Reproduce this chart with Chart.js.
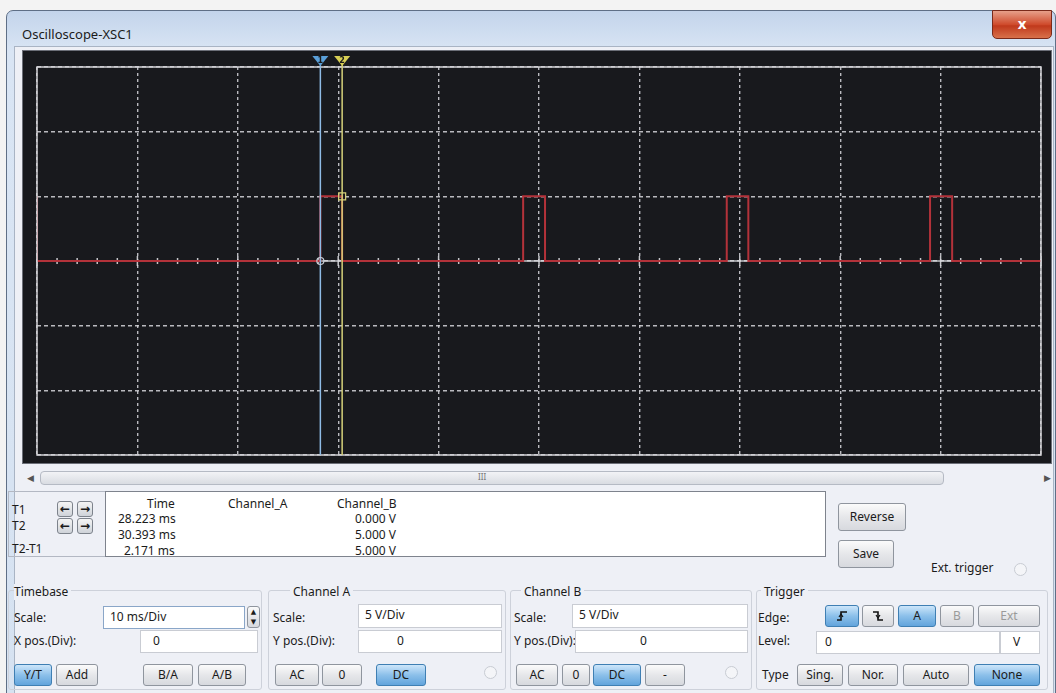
<!DOCTYPE html>
<html>
<head>
<meta charset="utf-8">
<title>Oscilloscope-XSC1</title>
<script src="https://cdn.jsdelivr.net/npm/chart.js@4/dist/chart.umd.min.js"></script>
<style>
  body { margin: 0; width: 1056px; height: 693px; overflow: hidden; background: #f3f3f3;
         font-family: "Noto Sans", "DejaVu Sans", sans-serif; font-size: 12px; color: #1b1b1b; position: relative; }
  .abs { position: absolute; white-space: nowrap; line-height: 16px; }
  #frame { position: absolute; left: 6px; top: 10px; width: 1048px; height: 690px; border: 1px solid #5f6f86;
           border-radius: 7px 7px 0 0; background: linear-gradient(#c3d4eb, #d9e5f4 40px, #d6e2f1); }
  #client { position: absolute; left: 14px; top: 46px; width: 1038px; height: 650px; background: #eef0f6;
            border: 1px solid #a9b4c4; }
  #closeBtn { position: absolute; left: 992px; top: 10px; width: 58px; height: 27px; border-radius: 0 0 5px 5px;
              background: linear-gradient(#e7a08a, #cf4b2c 50%, #c0391c 55%, #d8704a); border: 1px solid #7a2a1a;
              color: #fff; font-weight: bold; font-size: 15px; text-align: center; line-height: 25px; }
  #scopePanel { position: absolute; left: 22px; top: 50px; width: 1030px; height: 414px; background: #18191d;
                border: 1px solid #6c6f78; box-sizing: border-box; }
  #scope { position: absolute; left: 22px; top: 50px; }
  .box { position: absolute; border: 1px solid #9aa0ab; box-sizing: border-box; }
  .btn { position: absolute; box-sizing: border-box; border: 1px solid #8f959e; border-radius: 3px;
         background: linear-gradient(#fbfbfb, #e6e7ea 50%, #d7d9de); text-align: center; line-height: 20px; }
  .btn.on { background: linear-gradient(#cde6fa, #8cc0ea 50%, #62a4dc); border-color: #3f7fb3; }
  .btn.off { color: #9a9a9a; }
  .btn svg { position: absolute; left: 50%; top: 50%; transform: translate(-50%, -50%); }
  .inp { position: absolute; box-sizing: border-box; background: #fff; border: 1px solid #c9ccd3; line-height: 20px; padding-left: 6px; }
  .grp { position: absolute; box-sizing: border-box; border: 1px solid #cdd1da; border-radius: 3px; }
  .radio { position: absolute; width: 11px; height: 11px; border-radius: 50%; border: 1px solid #c8ccd3; background: #f4f5f8; }
  .arrow { position: absolute; width: 16px; height: 16px; box-sizing: border-box; border: 1px solid #7d838c; border-radius: 3px;
           background: linear-gradient(#f5f5f5, #cfd3d9); font-weight: bold; font-size: 12px; line-height: 13px; text-align: center; }
</style>
</head>
<body>
<div id="frame"></div>
<div class="abs" style="left:22px; top:26px; font-size:13px;">Oscilloscope-XSC1</div>
<div id="closeBtn">x</div>
<div id="client"></div>
<div id="scopePanel"></div>
<canvas id="scope" width="1030" height="414"></canvas>

<!-- scrollbar -->
<div class="abs" style="left:27px; top:470px; font-size:9px; color:#555;">&#9664;</div>
<div class="box" style="left:40px; top:471px; width:904px; height:14px; border-color:#b5bac4; border-radius:4px; background:linear-gradient(#f2f3f6,#d9dce2);"></div>
<div class="abs" style="left:478px; top:469px; font-size:8px; color:#777;">III</div>
<div class="abs" style="left:1044px; top:470px; font-size:9px; color:#555;">&#9654;</div>

<!-- cursor readout -->
<div class="box" style="left:8px; top:491px; width:98px; height:66px; border-color:#b3b8c3;"></div>
<div class="abs" style="left:12px; top:502px;">T1</div>
<div class="arrow" style="left:57px; top:501px;">&#8592;</div>
<div class="arrow" style="left:77px; top:501px;">&#8594;</div>
<div class="abs" style="left:12px; top:518px;">T2</div>
<div class="arrow" style="left:57px; top:518px;">&#8592;</div>
<div class="arrow" style="left:77px; top:518px;">&#8594;</div>
<div class="abs" style="left:12px; top:541px;">T2-T1</div>
<div class="box" style="left:105px; top:491px; width:721px; height:66px; background:#fff; border-color:#7e838d;"></div>
<div class="abs" style="left:147px; top:496px;">Time</div>
<div class="abs" style="left:118px; top:511px;">28.223 ms</div>
<div class="abs" style="left:118px; top:527px;">30.393 ms</div>
<div class="abs" style="left:124px; top:543px;">2.171 ms</div>
<div class="abs" style="left:228px; top:496px;">Channel_A</div>
<div class="abs" style="left:337px; top:496px;">Channel_B</div>
<div class="abs" style="left:320px; top:511px; width:76px; text-align:right;">0.000 V</div>
<div class="abs" style="left:320px; top:527px; width:76px; text-align:right;">5.000 V</div>
<div class="abs" style="left:320px; top:543px; width:76px; text-align:right;">5.000 V</div>
<div class="btn" style="left:838px; top:503px; width:68px; height:28px; line-height:26px;">Reverse</div>
<div class="btn" style="left:838px; top:540px; width:56px; height:28px; line-height:26px;">Save</div>
<div class="abs" style="left:931px; top:560px;">Ext. trigger</div>
<div class="radio" style="left:1014px; top:563px;"></div>

<!-- Timebase -->
<div class="grp" style="left:8px; top:590px; width:254px; height:100px;"></div>
<div class="abs" style="left:14px; top:584px; background:#eef0f6; padding-right:3px;">Timebase</div>
<div class="abs" style="left:14px; top:610px;">Scale:</div>
<div class="inp" style="left:103px; top:606px; width:142px; height:23px; border-color:#8aa6c8;">10 ms/Div</div>
<div class="btn" style="left:247px; top:606px; width:13px; height:22px; font-size:7px; line-height:10px;">&#9650;<br>&#9660;</div>
<div class="abs" style="left:14px; top:633px;">X pos.(Div):</div>
<div class="inp" style="left:140px; top:630px; width:118px; height:23px; padding-left:12px;">0</div>
<div class="btn on" style="left:14px; top:664px; width:38px; height:22px;">Y/T</div>
<div class="btn" style="left:56px; top:664px; width:42px; height:22px;">Add</div>
<div class="btn" style="left:143px; top:664px; width:50px; height:22px;">B/A</div>
<div class="btn" style="left:198px; top:664px; width:48px; height:22px;">A/B</div>

<!-- Channel A -->
<div class="grp" style="left:268px; top:590px; width:238px; height:100px;"></div>
<div class="abs" style="left:290px; top:584px; background:#eef0f6; padding:0 3px;">Channel A</div>
<div class="abs" style="left:273px; top:610px;">Scale:</div>
<div class="inp" style="left:358px; top:604px; width:144px; height:24px;">5 V/Div</div>
<div class="abs" style="left:273px; top:633px;">Y pos.(Div):</div>
<div class="inp" style="left:358px; top:630px; width:144px; height:23px; padding-left:38px;">0</div>
<div class="btn" style="left:275px; top:664px; width:44px; height:22px;">AC</div>
<div class="btn" style="left:322px; top:664px; width:40px; height:22px;">0</div>
<div class="btn on" style="left:376px; top:664px; width:50px; height:22px;">DC</div>
<div class="radio" style="left:484px; top:666px;"></div>

<!-- Channel B -->
<div class="grp" style="left:510px; top:590px; width:242px; height:100px;"></div>
<div class="abs" style="left:521px; top:584px; background:#eef0f6; padding:0 3px;">Channel B</div>
<div class="abs" style="left:514px; top:610px;">Scale:</div>
<div class="inp" style="left:572px; top:604px; width:176px; height:24px;">5 V/Div</div>
<div class="abs" style="left:514px; top:633px;">Y pos.(Div):</div>
<div class="inp" style="left:575px; top:630px; width:173px; height:23px; padding-left:64px;">0</div>
<div class="btn" style="left:516px; top:664px; width:42px; height:22px;">AC</div>
<div class="btn" style="left:562px; top:664px; width:28px; height:22px;">0</div>
<div class="btn on" style="left:593px; top:664px; width:48px; height:22px;">DC</div>
<div class="btn" style="left:645px; top:664px; width:40px; height:22px;">-</div>
<div class="radio" style="left:725px; top:666px;"></div>

<!-- Trigger -->
<div class="grp" style="left:756px; top:590px; width:292px; height:100px;"></div>
<div class="abs" style="left:761px; top:584px; background:#eef0f6; padding:0 3px;">Trigger</div>
<div class="abs" style="left:758px; top:610px;">Edge:</div>
<div class="btn on" style="left:825px; top:605px; width:34px; height:22px;">
  <svg width="12" height="12" viewBox="0 0 12 12"><path d="M1 10 H5 V2 H11" fill="none" stroke="#111" stroke-width="1.6"/><path d="M3 7 L5 4 L7 7" fill="none" stroke="#111" stroke-width="1.2"/></svg>
</div>
<div class="btn" style="left:862px; top:605px; width:32px; height:22px;">
  <svg width="12" height="12" viewBox="0 0 12 12"><path d="M1 2 H6 V10 H11" fill="none" stroke="#111" stroke-width="1.6"/><path d="M4 5 L6 8 L8 5" fill="none" stroke="#111" stroke-width="1.2"/></svg>
</div>
<div class="btn on" style="left:898px; top:605px; width:38px; height:22px;">A</div>
<div class="btn off" style="left:940px; top:605px; width:34px; height:22px;">B</div>
<div class="btn off" style="left:978px; top:605px; width:62px; height:22px;">Ext</div>
<div class="abs" style="left:758px; top:633px;">Level:</div>
<div class="inp" style="left:816px; top:631px; width:184px; height:23px; padding-left:8px;">0</div>
<div class="inp" style="left:1000px; top:631px; width:40px; height:23px; padding-left:12px;">V</div>
<div class="abs" style="left:762px; top:667px;">Type</div>
<div class="btn" style="left:797px; top:664px; width:46px; height:22px;">Sing.</div>
<div class="btn" style="left:848px; top:664px; width:50px; height:22px;">Nor.</div>
<div class="btn" style="left:903px; top:664px; width:66px; height:22px;">Auto</div>
<div class="btn on" style="left:974px; top:664px; width:66px; height:22px;">None</div>

<script>
// Channel B trace (time in ms, level in V)
const timeMs = [0, 0, 28.22, 28.22, 30.39, 30.39, 48.42, 48.42, 50.6, 50.6, 68.7, 68.7, 70.85, 70.85, 88.95, 88.95, 91.15, 91.15, 100];
const channelB = [5, 0, 0, 5, 5, 0, 0, 5, 5, 0, 0, 5, 5, 0, 0, 5, 5, 0, 0];

// 10 ms/Div over 10 divisions, 5 V/Div over 6 divisions
const timeDiv = 10;
const timeMax = 100;
const voltDiv = 5;
const voltMax = 15;
const minorPerDiv = 5;

// cursors T1 / T2 and the Channel_B readings at them
const cursorTimes = [28.223, 30.393];
const cursorVolts = [0, 5];

const gridColor = "rgba(215, 215, 220, 0.85)";

const scopeOverlay = {
  id: "scopeOverlay",
  beforeDatasetsDraw(chart) {
    const { ctx, chartArea: a, scales: { x, y } } = chart;
    const y0 = y.getPixelForValue(0);
    ctx.save();
    ctx.strokeStyle = "rgba(215, 215, 220, 0.9)";
    ctx.lineWidth = 1.5;
    ctx.beginPath();
    ctx.moveTo(a.left, y0);
    ctx.lineTo(a.right, y0);
    ctx.stroke();
    // minor ticks on the centre line
    const n = (timeMax / timeDiv) * minorPerDiv;
    for (let i = 0; i <= n; i++) {
      const px = x.getPixelForValue((i * timeDiv) / minorPerDiv);
      const h = i % minorPerDiv === 0 ? 5 : 3;
      ctx.beginPath();
      ctx.moveTo(px, y0 - h);
      ctx.lineTo(px, y0 + h);
      ctx.stroke();
    }
    ctx.restore();
  },
  afterDatasetsDraw(chart) {
    const { ctx, chartArea: a, scales: { x, y } } = chart;
    ctx.save();
    // outer frame
    ctx.strokeStyle = "#d4d4d8";
    ctx.lineWidth = 1.5;
    ctx.strokeRect(a.left, a.top, a.right - a.left, a.bottom - a.top);

    const colors = ["#8fbbe6", "#d6d27a"];
    const fills = ["#5a9fd8", "#d8cf55"];
    cursorTimes.forEach((t, i) => {
      const px = x.getPixelForValue(t);
      ctx.strokeStyle = colors[i];
      ctx.lineWidth = 1.5;
      ctx.beginPath();
      ctx.moveTo(px, a.top - 8);
      ctx.lineTo(px, a.bottom);
      ctx.stroke();
      // marker triangle on top
      ctx.fillStyle = fills[i];
      ctx.beginPath();
      ctx.moveTo(px - 8, a.top - 11);
      ctx.lineTo(px + 8, a.top - 11);
      ctx.lineTo(px, a.top - 1);
      ctx.closePath();
      ctx.fill();
      ctx.fillStyle = "#1a1a1a";
      ctx.font = "bold 8px 'DejaVu Sans'";
      ctx.textAlign = "center";
      ctx.fillText(String(i + 1), px, a.top - 4);
      // reading marker
      const py = y.getPixelForValue(cursorVolts[i]);
      ctx.strokeStyle = i === 0 ? "#c8cdd6" : "#d6d27a";
      ctx.lineWidth = 1.2;
      ctx.beginPath();
      if (i === 0) ctx.arc(px, py, 3.5, 0, Math.PI * 2);
      else ctx.rect(px - 3.5, py - 3.5, 7, 7);
      ctx.stroke();
    });
    ctx.restore();
  },
};

const scopeCanvas = document.getElementById("scope");

let scopeChart = new Chart(scopeCanvas, {
  type: "line",
  data: {
    datasets: [
      {
        label: "Channel_B",
        data: timeMs.map((t, i) => ({ x: t, y: channelB[i] })),
        borderColor: "#b3323a",
        borderWidth: 2,
        pointRadius: 0,
        tension: 0,
        fill: false,
      },
    ],
  },
  options: {
    responsive: false,
    animation: false,
    events: [],
    layout: {
      padding: { left: 15, right: 11, top: 17, bottom: 9 },
    },
    scales: {
      x: {
        type: "linear",
        min: 0,
        max: timeMax,
        ticks: { display: false, stepSize: timeDiv },
        grid: { color: gridColor, lineWidth: 1.4, drawTicks: false },
        border: { display: false, dash: [3, 3] },
      },
      y: {
        type: "linear",
        min: -voltMax,
        max: voltMax,
        ticks: { display: false, stepSize: voltDiv },
        grid: { color: gridColor, lineWidth: 1.4, drawTicks: false },
        border: { display: false, dash: [4, 3] },
      },
    },
    plugins: {
      legend: { display: false },
      tooltip: { enabled: false },
    },
  },
  plugins: [scopeOverlay],
});
</script>
</body>
</html>
